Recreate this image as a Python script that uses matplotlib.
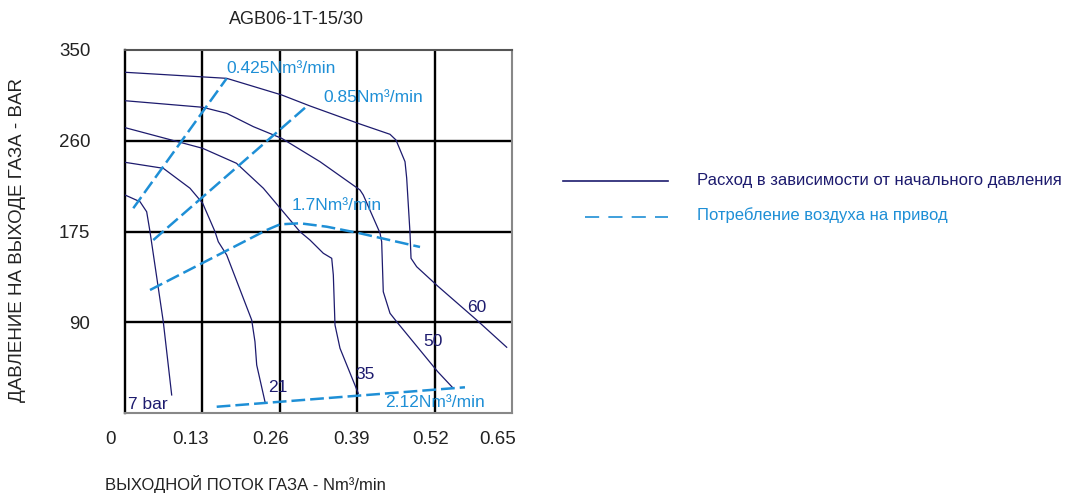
import numpy as np
import matplotlib
matplotlib.use("Agg")
import matplotlib.pyplot as plt
from matplotlib.lines import Line2D
from matplotlib.transforms import ScaledTranslation

plt.rcParams['font.family'] = ['Liberation Sans', 'DejaVu Sans']

# ---------------- data (flow Nm3/min, pressure bar) ----------------
x_ticks = [0, 0.13, 0.26, 0.39, 0.52, 0.65]
x_tick_labels = ["0", "0.13", "0.26", "0.39", "0.52", "0.65"]
y_ticks = [90, 175, 260, 350]
y_tick_labels = ["90", "175", "260", "350"]
y_scale_bar = [0, 90, 175, 260, 350]   # the chart's grid rows are equally spaced

p60_x = [0, 0.1708, 0.2632, 0.3107, 0.3947, 0.4451, 0.4552, 0.4703, 0.4731, 0.4787, 0.4804, 0.4899, 0.5252, 0.5907, 0.6411]
p60_y = [327.9, 321.9, 305.4, 294.5, 276.6, 266.4, 260.7, 240.4, 225.1, 173.6, 149.9, 142.0, 123.9, 92.1, 65.2]

p50_x = [0, 0.1305, 0.1708, 0.2155, 0.2632, 0.3275, 0.3947, 0.4002, 0.4283, 0.4311, 0.4338, 0.4451, 0.4563, 0.5252, 0.5514]
p50_y = [299.7, 293.2, 287.2, 274.0, 262.4, 240.4, 213.9, 209.2, 173.6, 165.4, 118.6, 98.4, 90.5, 41.0, 24.5]

p35_x = [0, 0.1305, 0.1872, 0.2324, 0.2939, 0.3107, 0.3331, 0.3472, 0.3499, 0.3527, 0.3611, 0.3918]
p35_y = [273.0, 252.9, 238.9, 215.5, 174.8, 167.0, 154.6, 149.9, 134.3, 87.3, 64.2, 19.5]

p21_x = [0, 0.0643, 0.1092, 0.1305, 0.1512, 0.1567, 0.1708, 0.2128, 0.2183, 0.2212, 0.2351]
p21_y = [239.8, 234.2, 215.5, 201.4, 174.8, 165.4, 153.0, 92.1, 70.7, 47.6, 11.2]

p7_x = [0, 0.0252, 0.0364, 0.0420, 0.0643, 0.0784]
p7_y = [209.2, 202.9, 193.5, 174.8, 90.5, 17.9]

air0425_x = [0.0139, 0.1708]
air0425_y = [196.8, 321.9]
air085_x = [0.0475, 0.3078]
air085_y = [167.0, 295.5]
air17_x = [0.0420, 0.2380, 0.2603, 0.2939, 0.3388, 0.3947, 0.4955]
air17_y = [120.2, 176.4, 181.7, 182.7, 179.5, 173.3, 160.5]
air212_x = [0.1540, 0.5710]
air212_y = [6.2, 25.5]

pressure_labels = ["7 bar", "21", "35", "50", "60"]
air_labels = ["0.425Nm³/min", "0.85Nm³/min", "1.7Nm³/min", "2.12Nm³/min"]

# label anchor positions (layout)
pressure_label_pos = [(0.0055, 8.9), (0.2407, 25.5), (0.3863, 37.7), (0.5010, 70.7), (0.5739, 103.6)]
air_label_pos = [(0.1708, 331.8), (0.3331, 303.1), (0.280, 199.8), (0.4367, 10.6)]

NAVY = "#1d1b6e"
BLUE = "#1e8fd6"

fig = plt.figure(figsize=(10.8, 4.93), dpi=100)
ax = fig.add_axes([125/1080, 1 - 413/493, 387/1080, 363/493])

idx = np.arange(len(y_scale_bar), dtype=float)
fwd = lambda v: np.interp(v, y_scale_bar, idx)
inv = lambda v: np.interp(v, idx, y_scale_bar)
ax.set_yscale('function', functions=(fwd, inv))
ax.set_xlim(0, 0.65)
ax.set_ylim(0, 350)

# grid
for xt in x_ticks[1:-1]:
    ax.axvline(xt, color='black', lw=1.7, zorder=1)
for yt in y_ticks[:-1]:
    ax.axhline(yt, color='black', lw=1.7, zorder=1)

for sx, sy in [(p60_x, p60_y), (p50_x, p50_y), (p35_x, p35_y), (p21_x, p21_y), (p7_x, p7_y)]:
    ax.plot(sx, sy, color=NAVY, lw=0.9, zorder=3)

for sx, sy in [(air0425_x, air0425_y), (air085_x, air085_y), (air17_x, air17_y), (air212_x, air212_y)]:
    ax.plot(sx, sy, color=BLUE, lw=1.8, linestyle=(0, (5.5, 2)), zorder=4)

for txt, (lx, ly) in zip(pressure_labels, pressure_label_pos):
    ax.text(lx, ly, txt, color=NAVY, fontsize=12.5, ha='left', va='center', zorder=5)
for txt, (lx, ly) in zip(air_labels, air_label_pos):
    ax.text(lx, ly, txt, color=BLUE, fontsize=12.5, ha='left', va='center', zorder=5)

# spines
ax.spines['left'].set_color('black'); ax.spines['left'].set_linewidth(1.7)
ax.spines['top'].set_color('#555555'); ax.spines['top'].set_linewidth(1.5)
ax.spines['right'].set_color('#888888'); ax.spines['right'].set_linewidth(1.5)
ax.spines['bottom'].set_color('#888888'); ax.spines['bottom'].set_linewidth(1.5)

ax.set_xticks(x_ticks)
ax.set_xticklabels(x_tick_labels)
ax.set_yticks(y_ticks)
ax.set_yticklabels(y_tick_labels)
ax.minorticks_off()
ax.tick_params(axis='both', length=0, labelsize=13.5, labelcolor='#222222')
ax.tick_params(axis='x', pad=13)
ax.tick_params(axis='y', pad=25)

x_label_dx = [-15, -11.7, -9.2, -6, -3.7, -14.5]
for lab, dx in zip(ax.get_xticklabels(), x_label_dx):
    lab.set_transform(lab.get_transform() + ScaledTranslation(dx / 100, 0, fig.dpi_scale_trans))

fig.text(296/1080, 1 - 20/493, "AGB06-1T-15/30", ha='center', va='center', fontsize=13, color='#222222')
fig.text(105/1080, 1 - 484/493, "ВЫХОДНОЙ ПОТОК ГАЗА - Nm³/min", ha='left', va='center', fontsize=12, color='#222222')
fig.text(18/1080, 1 - 240/493, "ДАВЛЕНИЕ НА ВЫХОДЕ ГАЗА - BAR", ha='center', va='center', rotation=90, fontsize=13.5, color='#222222')

# legend
fig.add_artist(Line2D([563/1080, 668/1080], [1 - 181/493, 1 - 181/493], transform=fig.transFigure, color=NAVY, lw=1.2))
fig.add_artist(Line2D([585/1080, 668/1080], [1 - 217/493, 1 - 217/493], transform=fig.transFigure, color=BLUE, lw=1.2, linestyle=(0, (8.5, 5.5))))
fig.text(697/1080, 1 - 181/493, "Расход в зависимости от начального давления", ha='left', va='center', fontsize=12, color=NAVY)
fig.text(697/1080, 1 - 215/493, "Потребление воздуха на привод", ha='left', va='center', fontsize=12, color=BLUE)

fig.savefig("out.png", dpi=100)
